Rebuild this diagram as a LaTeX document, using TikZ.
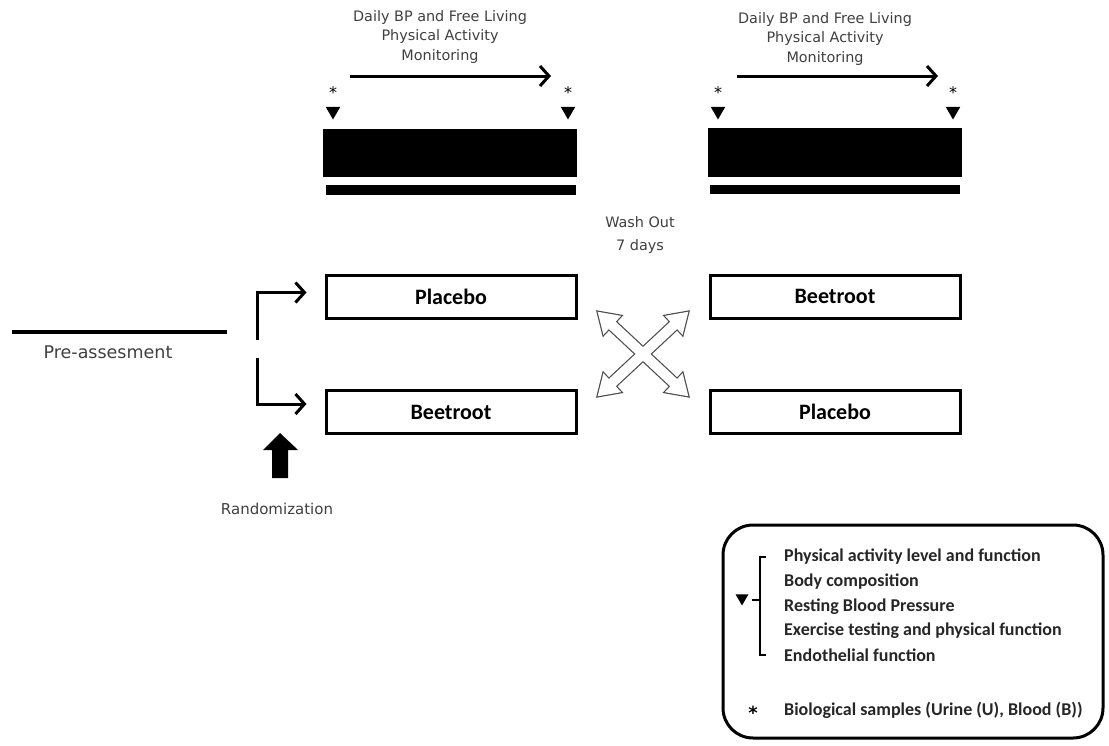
\documentclass[tikz,border=0pt]{standalone}
\usepackage{fontspec}
\setmainfont{Carlito}
\newfontfamily\lightfont{DejaVu Sans}
\usetikzlibrary{arrows.meta}
\usetikzlibrary{shapes.geometric}
\newcommand{\armwidth}{250pt}
\tikzset{armbox/.style={draw=#1,line width=3pt,minimum width=\armwidth,minimum height=43pt,inner sep=0pt,font=\fontsize{22}{26}\selectfont\bfseries},armbox/.default=black}
\tikzset{darkbar/.style={fill=#1,inner sep=0pt},darkbar/.default=black}
\tikzset{note/.style={color=#1,inner sep=0pt,align=center,font=\lightfont\fontsize{14.4}{19.5}\selectfont},note/.default=black!75}
\tikzset{marker/.style={fill=#1,regular polygon,regular polygon sides=3,shape border rotate=180,minimum size=17pt,inner sep=0pt},marker/.default=black}
\tikzset{flow/.style={color=#1,line width=3pt,-{Straight Barb[length=9pt,width=20pt]}},flow/.default=black}
\tikzset{item/.style={color=#1,inner sep=0pt,anchor=west,font=\fontsize{18}{20}\selectfont\bfseries},item/.default=black!85}

\begin{document}
\begin{tikzpicture}[x=1pt,y=-1pt]
		\useasboundingbox (0,0) rectangle (1109,745);
		% monitoring periods
		\node [note] (dailyA) at (440,37) {Daily BP and Free Living\\Physical Activity\\Monitoring};
		\node [note] (dailyB) at (825,39) {Daily BP and Free Living\\Physical Activity\\Monitoring};
		\coordinate (monA1) at (350,76);
		\coordinate (monA2) at (551,76);
		\coordinate (monB1) at (737,76);
		\coordinate (monB2) at (938,76);
		\draw [flow] (monA1) -- (monA2);
		\draw [flow] (monB1) -- (monB2);
		
		\foreach \px/\nm in {333/tA1,568/tA2,718/tB1,953/tB2} {
			\node [marker] (\nm) at (\px,111) {};
			\node [note=black, font=\lightfont\fontsize{16}{16}\selectfont] (s\nm) at (\px,93) {*};
		}
		
		\node [darkbar, minimum width=254pt, minimum height=48pt] (blockA) at (450,153) {};
		\node [darkbar, minimum width=250pt, minimum height=10pt] (barA) at (451,190) {};
		\node [darkbar, minimum width=254pt, minimum height=49pt] (blockB) at (835,152.5) {};
		\node [darkbar, minimum width=250pt, minimum height=9pt] (barB) at (835,189.5) {};
		
		\node [note] (wash) at (640,235) {Wash Out\\[4pt]7 days};
		
		% treatment arms
		\node [armbox] (plA) at (451,296.5) {Placebo};
		\node [armbox] (btA) at (451,412) {Beetroot};
		\node [armbox] (btB) at (835,296.5) {Beetroot};
		\node [armbox] (plB) at (835,412) {Placebo};
		
		\coordinate (preL) at (12,332);
		\coordinate (preR) at (227,332);
		\draw [line width=4pt] (preL) -- (preR);
		\node [note, font=\lightfont\fontsize{17.5}{18}\selectfont] (pre) at (108,352) {Pre-assesment};
		
		\coordinate (splitA) at (257,340);
		\coordinate (splitB) at (257,358);
		\draw [flow] (splitA) |- ([shift={(-18,-4)}]plA.west);
		\draw [flow] (splitB) |- ([shift={(-18,-8)}]btA.west);
		
		\fill (272,478) -- (272,450) -- (263,450) -- (280,433) -- (298,450) -- (288,450) -- (288,478) -- cycle;
		\node [note, font=\lightfont\fontsize{15}{18}\selectfont] (rand) at (277,509) {Randomization};
		
		% crossover
		\foreach \ang in {43,-43} {
			\draw [black!70, line width=2.4pt, shift={(643,354)}, rotate=\ang]
				(62,0) -- (42,13) -- (42,5) -- (-42,5) -- (-42,13) -- (-62,0) -- (-42,-13) -- (-42,-5) -- (42,-5) -- (42,-13) -- cycle;
		}
		\foreach \ang in {43,-43} {
			\fill [white, shift={(643,354)}, rotate=\ang]
				(62,0) -- (42,13) -- (42,5) -- (-42,5) -- (-42,13) -- (-62,0) -- (-42,-13) -- (-42,-5) -- (42,-5) -- (42,-13) -- cycle;
		}
		
		% legend
		\draw [line width=3pt, rounded corners=30pt] (723,525) rectangle (1103,738);
		\node [marker, minimum size=15pt] (tL) at (742,598) {};
		\draw [line width=2pt] (766,557) -- (760,557) -- (760,655) -- (766,655);
		\draw [line width=2pt] (760,600) -- (752,600);
		\foreach \txt [count=\i] in {Physical activity level and function,Body composition,Resting Blood Pressure,Exercise testing and physical function,Endothelial function} {
			\node [item] (it\i) at (784,{557+24.6*(\i-1)}) {\txt};
		}
		\node [note=black, font=\lightfont\fontsize{18}{18}\selectfont\bfseries] (sL) at (753,713) {*};
		\node [item] (bio) at (784,710) {Biological samples (Urine (U), Blood (B))};
	\end{tikzpicture}
\end{document}
